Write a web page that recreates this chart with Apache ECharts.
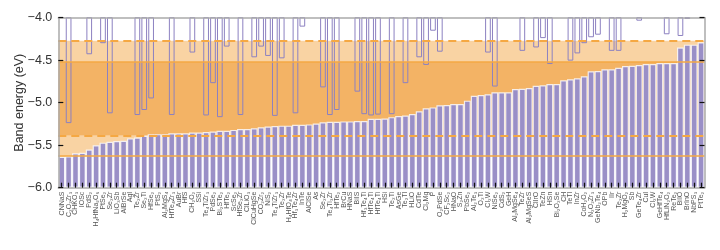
<!DOCTYPE html>
<html><head><meta charset="utf-8">
<script src="https://cdn.jsdelivr.net/npm/echarts@6/dist/echarts.min.js"></script>
<style>html,body{margin:0;padding:0;background:#fff}#c{width:720px;height:250px}</style>
</head><body><div id="c"></div>
<script>
const categories = [
'CNNaS','C₂O₂Zr₃','CHKO₃','IOSc','PdS₂','H₄HfNa₂O₆','PtSe₂','Se₂Zr','LiO₃Sb','AlBrSe',
'AgI','Te₂Zr','Se₂Ti','HfSe₂','PtS₂','Al₂MgS₄','HfTe₄Zr₃','AuBr','HfS','CH₂O₂',
'SSi','Te₄TiZr₃','PdSe₂','Bi₂STe₂','HfTe₂','ScSe₂','HfSe₂Zr','ClLiO₃','ClCuHgSe','CO₂Zr₂',
'NiS₂','Te₄TiZr₃','Te₂Zr','H₄HfO₄Te','Hf₃Te₄Zr','InTe','AlClSe','As','Se₂Zr','Te₄Ti₃Zr',
'HfTe₂','BrCu','HNaS','BiIS','Hf₃Te₄Ti','HfTe₄Ti','HfTe₄Ti','HSi','Te₂Ti','AsGe',
'Te₂Tl','HLiO','CdTe','Cl₂Mg','P','O₂PdSe','CF₂Sc₂','HNaO','S₂Zn','PbSe₂',
'Al₂Te₃','O₂Ti','Cl₂W','NiSe₂','CdS₂','GeH','Al₂MgSe₄','TeZr','Al₂MgSeS','ClIrO',
'TeZn','HSn','Bi₂O₂Se','CH','TeTl','InZr','CoH₂O₂','N₂O₂Zr₃','GeNb₂Te₄','OPb',
'IIr','Te₂Zr','H₂MgO₂','Sb','GeTe₄Zr','CuI','Cl₂W','GeHfTe₄','HfLiN₂O₂','ReTe₂',
'BiIO','BrInO','NbPS₃','PtTe₂'
];
const valenceBand = [
-5.635,-5.63,-5.595,-5.59,-5.55,-5.50,-5.47,-5.46,-5.45,-5.447,
-5.42,-5.41,-5.39,-5.37,-5.37,-5.37,-5.36,-5.36,-5.36,-5.35,
-5.35,-5.345,-5.34,-5.33,-5.33,-5.32,-5.31,-5.31,-5.30,-5.29,
-5.28,-5.275,-5.27,-5.27,-5.26,-5.26,-5.255,-5.245,-5.23,-5.225,
-5.225,-5.22,-5.22,-5.215,-5.215,-5.19,-5.19,-5.185,-5.17,-5.157,
-5.15,-5.133,-5.10,-5.066,-5.055,-5.03,-5.027,-5.015,-5.015,-4.976,
-4.918,-4.91,-4.90,-4.878,-4.878,-4.878,-4.839,-4.835,-4.827,-4.80,
-4.795,-4.78,-4.78,-4.737,-4.725,-4.713,-4.69,-4.63,-4.627,-4.607,
-4.607,-4.588,-4.568,-4.565,-4.556,-4.545,-4.545,-4.533,-4.533,-4.533,
-4.35,-4.317,-4.317,-4.29
];
const conductionBand = [
null,-5.24,null,null,-4.43,null,-4.30,-5.125,null,null,
null,-5.145,-5.086,-4.95,null,null,-5.145,null,null,-4.41,
null,-5.15,-4.77,-5.17,-4.34,null,-5.145,null,-4.466,-4.34,
-4.45,-5.155,-4.478,null,-5.125,-4.105,null,null,-4.82,-5.145,
-5.086,null,null,-4.87,-5.135,-5.15,-5.14,null,-5.135,null,
-4.77,null,-4.466,-4.556,-4.153,-4.40,null,null,null,null,
null,null,-4.41,-4.81,null,null,null,-4.39,null,-4.35,
-4.24,-4.545,null,null,-4.505,-4.42,-4.30,-4.23,-4.20,null,
-4.39,-4.39,null,null,-4.035,null,null,null,-4.195,null,
-4.215,-4.015,null,null
];
const dashedLevels = [-4.27, -5.39];
const solidLevels = [-4.52, -5.635];
const yMin = -6.0, yMax = -4.0, yStep = 0.5;

const FONT = '"Liberation Sans", Arial, Helvetica, sans-serif';
const LIGHT = '#f9d3a3', DARK = '#f3b365', LINE = '#f5a843';
const PURPLE = '#9a8fc7', OUTLINE = '#8c81c1';
const frameLine = {show: true, lineStyle: {color: '#aaaaaa', width: 1.5}};
const tickIn = {show: true, inside: true, length: 5, lineStyle: {color: '#111', width: 1.2}};

const chart = echarts.init(document.getElementById('c'), null, {renderer: 'canvas'});
chart.setOption({
  animation: false,
  grid: {left: 58.3, right: 15.5, top: 17.7, bottom: 62.3, containLabel: false, outerBoundsMode: 'none'},
  xAxis: [
    {type: 'category', data: categories, boundaryGap: true, z: 10,
     axisLine: frameLine,
     axisTick: Object.assign({alignWithLabel: true, interval: 0}, tickIn),
     axisLabel: {interval: 0, rotate: 90, fontSize: 7, color: '#555', margin: 4, fontFamily: FONT},
     splitLine: {show: false}},
    {type: 'category', data: categories, boundaryGap: true, position: 'top', z: 10,
     axisLine: frameLine, axisTick: {show: false}, axisLabel: {show: false}, splitLine: {show: false}}
  ],
  yAxis: [
    {type: 'value', min: yMin, max: yMax, interval: yStep, z: 10,
     axisLine: frameLine, axisTick: tickIn, splitLine: {show: false},
     axisLabel: {formatter: v => v.toFixed(1).replace('-', '\u2212'), fontSize: 12.5, color: '#333', margin: 6, fontFamily: FONT},
     name: 'Band energy (eV)', nameLocation: 'middle', nameGap: 32, nameMoveOverlap: false,
     nameTextStyle: {fontSize: 12.5, color: '#333', fontFamily: FONT}},
    {type: 'value', min: yMin, max: yMax, interval: yStep, position: 'right', z: 10,
     axisLine: frameLine, axisTick: tickIn, axisLabel: {show: false}, splitLine: {show: false}}
  ],
  series: [
    {type: 'bar', name: 'base', stack: 'vb', xAxisIndex: 0, yAxisIndex: 0, z: 1,
     data: valenceBand, barCategoryGap: '0%', itemStyle: {color: 'rgba(0,0,0,0)'}, silent: true,
     markArea: {silent: true, z: 1, data: [
       [{yAxis: dashedLevels[0], itemStyle: {color: LIGHT}}, {yAxis: solidLevels[0]}],
       [{yAxis: solidLevels[0], itemStyle: {color: DARK}}, {yAxis: dashedLevels[1]}],
       [{yAxis: dashedLevels[1], itemStyle: {color: LIGHT}}, {yAxis: solidLevels[1]}]
     ]}},
    {type: 'bar', name: 'valence', stack: 'vb', xAxisIndex: 0, yAxisIndex: 0, z: 2,
     data: valenceBand.map(v => yMin - v), barCategoryGap: '0%',
     itemStyle: {color: PURPLE, borderColor: 'rgba(255,255,255,0.8)', borderWidth: 1.2}},
    {type: 'bar', name: 'conduction', xAxisIndex: 1, yAxisIndex: 0, z: 3,
     data: conductionBand, barWidth: '83%',
     itemStyle: {color: 'rgba(0,0,0,0)', borderColor: OUTLINE, borderWidth: 1}},
    {type: 'line', name: 'levels', xAxisIndex: 0, yAxisIndex: 0, z: 5, data: [], symbol: 'none',
     markLine: {silent: true, symbol: ['none', 'none'], label: {show: false}, z: 5,
       data: [
         {yAxis: dashedLevels[0], lineStyle: {color: LINE, width: 2, type: [8, 5]}},
         {yAxis: dashedLevels[1], lineStyle: {color: LINE, width: 2, type: [8, 5]}},
         {yAxis: solidLevels[0], lineStyle: {color: LINE, width: 1.5, type: 'solid'}},
         {yAxis: solidLevels[1], lineStyle: {color: LINE, width: 1.5, type: 'solid'}}
       ]}}
  ]
});
</script></body></html>
